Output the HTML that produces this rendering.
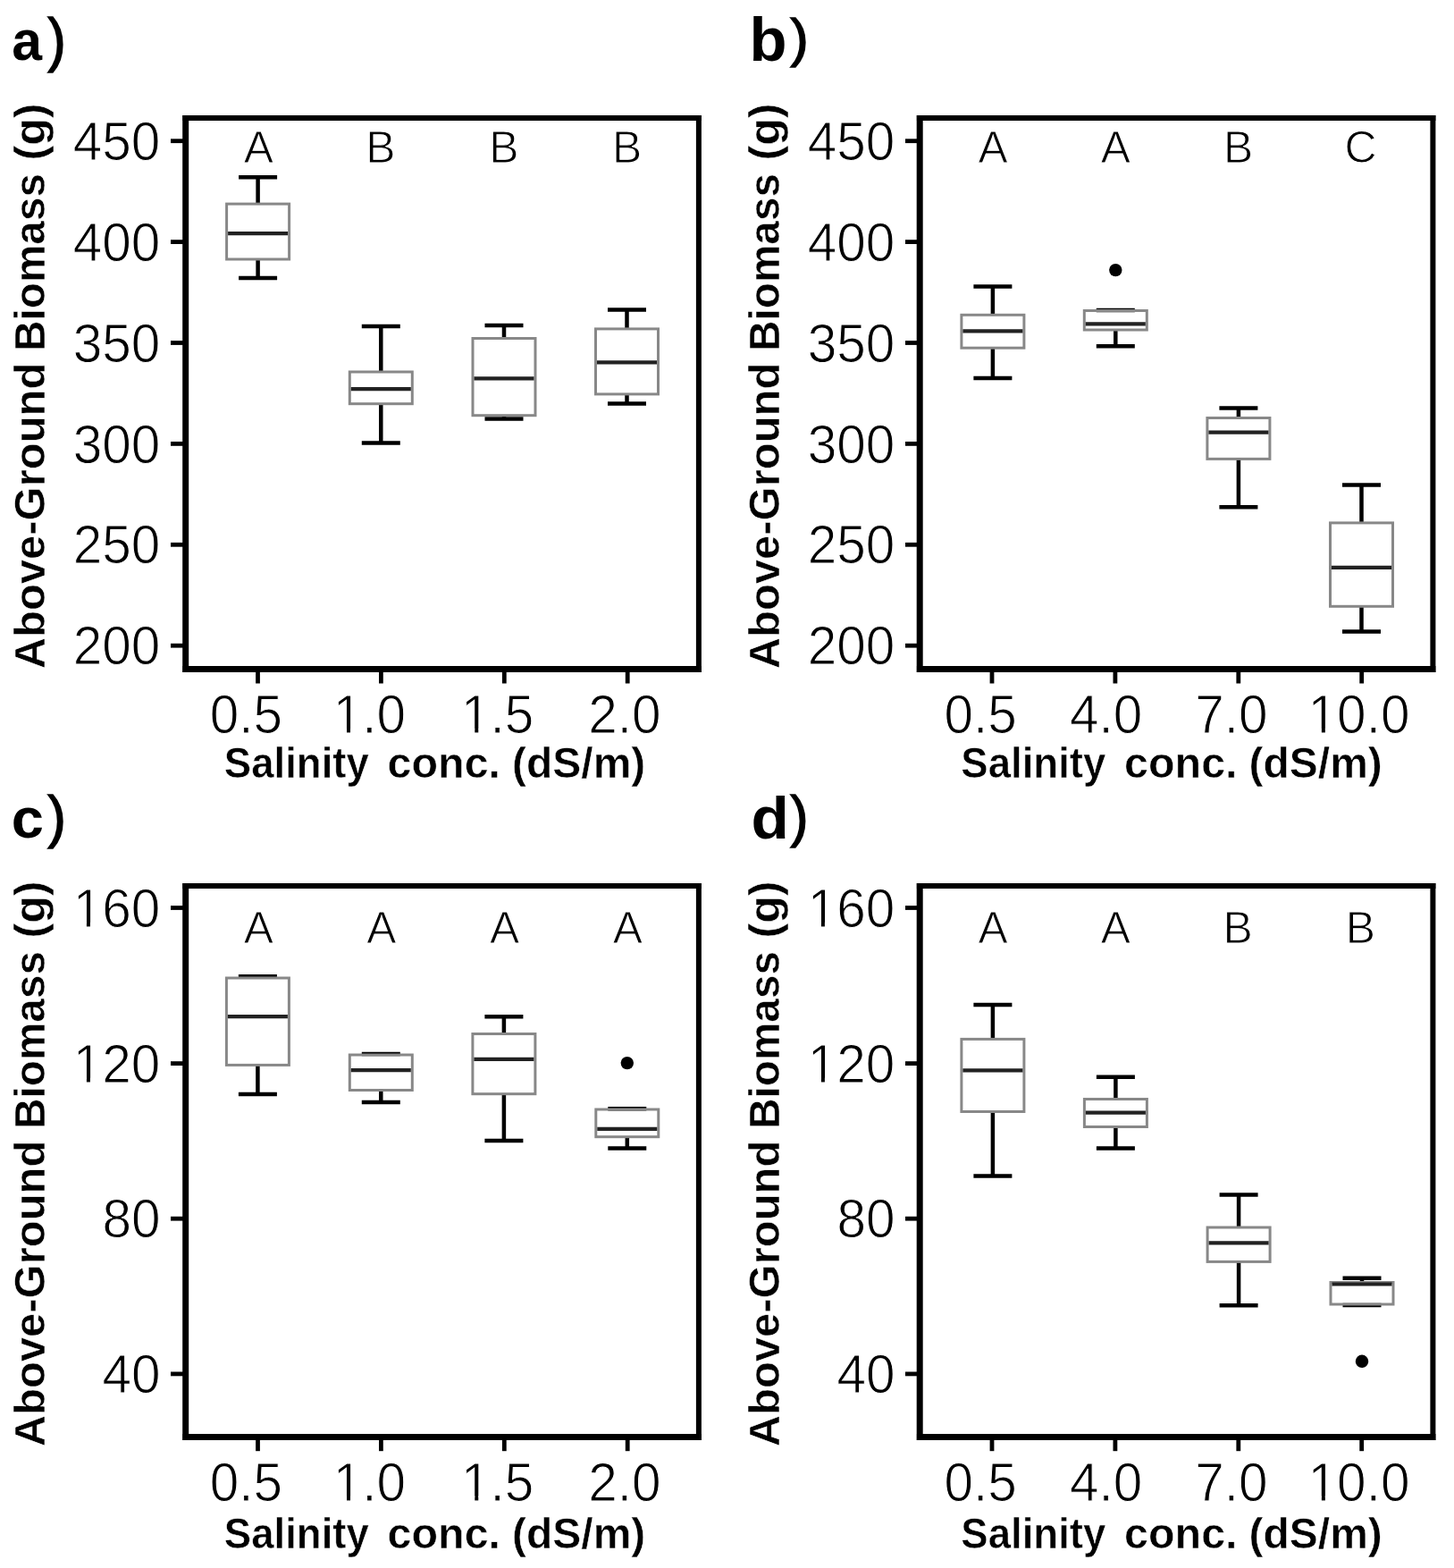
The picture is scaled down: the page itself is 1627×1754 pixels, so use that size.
<!DOCTYPE html>
<html lang="en"><head><meta charset="utf-8"><title>Above-ground biomass vs salinity</title>
<style>html,body{margin:0;padding:0;background:#fff;overflow:hidden;}svg{display:block;}text{font-family:'Liberation Sans', Arial, Helvetica, sans-serif;fill:#000;white-space:pre;}.b{font-weight:bold;}</style></head><body>
<svg width="1627" height="1754" viewBox="0 0 1627 1754">
<rect x="0" y="0" width="1627" height="1754" fill="#fff"/>
<g id="panel-a">
<text class="b" font-size="100" transform="matrix(0.6075 0 0 0.6327 13.2774 67.1673)">a</text><text font-size="100" transform="matrix(0.6038 0 0 0.6628 53.4962 67.3819)" stroke="#000" stroke-width="2.5264">)</text>
<text class="b" font-size="100" transform="translate(50.2 748.3691) rotate(-90) scale(0.4897 0.475)" stroke="#fff" stroke-width="1.0366">Above-Ground</text>
<text class="b" font-size="100" transform="translate(50.2 392.9414) rotate(-90) scale(0.4773 0.475)" stroke="#fff" stroke-width="1.05">Biomass</text>
<text class="b" font-size="100" transform="translate(50.2 179.5085) rotate(-90) scale(0.5017 0.475)" stroke="#fff" stroke-width="1.0239">(g)</text>
<text class="b" font-size="100" transform="matrix(0.4557 0 0 0.478 250.8329 870.4)" stroke="#fff" stroke-width="1.071">Salinity</text>
<text class="b" font-size="100" transform="matrix(0.4844 0 0 0.478 433.5624 870.4)" stroke="#fff" stroke-width="1.0391">conc.</text>
<text class="b" font-size="100" transform="matrix(0.4797 0 0 0.478 573.1015 870.4)" stroke="#fff" stroke-width="1.0442">(dS/m)</text>
<path d="M204.4 132H784.9" stroke="#000" stroke-width="5.8" fill="none"/>
<path d="M204.4 748.4H784.9" stroke="#000" stroke-width="7" fill="none"/>
<path d="M207.7 129.1V751.9" stroke="#000" stroke-width="7" fill="none"/>
<path d="M781.9 129.1V751.9" stroke="#000" stroke-width="6" fill="none"/>
<line x1="191" y1="157.7" x2="207.9" y2="157.7" stroke="#000" stroke-width="4.8"/>
<text font-size="100" transform="matrix(0.585 0 0 0.615 81.645 178.8)" stroke="#fff" stroke-width="1.6667">450</text>
<line x1="191" y1="270.6" x2="207.9" y2="270.6" stroke="#000" stroke-width="4.8"/>
<text font-size="100" transform="matrix(0.585 0 0 0.615 81.645 291.7)" stroke="#fff" stroke-width="1.6667">400</text>
<line x1="191" y1="383.5" x2="207.9" y2="383.5" stroke="#000" stroke-width="4.8"/>
<text font-size="100" transform="matrix(0.585 0 0 0.615 81.645 404.6)" stroke="#fff" stroke-width="1.6667">350</text>
<line x1="191" y1="496.4" x2="207.9" y2="496.4" stroke="#000" stroke-width="4.8"/>
<text font-size="100" transform="matrix(0.585 0 0 0.615 81.645 517.5)" stroke="#fff" stroke-width="1.6667">300</text>
<line x1="191" y1="609.3" x2="207.9" y2="609.3" stroke="#000" stroke-width="4.8"/>
<text font-size="100" transform="matrix(0.585 0 0 0.615 81.645 630.4)" stroke="#fff" stroke-width="1.6667">250</text>
<line x1="191" y1="722.2" x2="207.9" y2="722.2" stroke="#000" stroke-width="4.8"/>
<text font-size="100" transform="matrix(0.585 0 0 0.615 81.645 743.3)" stroke="#fff" stroke-width="1.6667">200</text>
<line x1="288.5" y1="748" x2="288.5" y2="764.5" stroke="#000" stroke-width="4.8"/>
<line x1="426.4" y1="748" x2="426.4" y2="764.5" stroke="#000" stroke-width="4.8"/>
<line x1="564.3" y1="748" x2="564.3" y2="764.5" stroke="#000" stroke-width="4.8"/>
<line x1="702.2" y1="748" x2="702.2" y2="764.5" stroke="#000" stroke-width="4.8"/>
<text font-size="100" transform="matrix(0.585 0 0 0.615 234.8425 820.2)" stroke="#fff" stroke-width="1.6667">0.5</text>
<g transform="matrix(0.585 0 0 0.615 372.7725 820.2)"><text font-size="100" stroke="#fff" stroke-width="1.6667">1.0</text><path d="M5 -8H26.1V2H5ZM32.9 -8H52V2H32.9Z" fill="#fff"/></g>
<g transform="matrix(0.585 0 0 0.615 516.0225 820.2)"><text font-size="100" stroke="#fff" stroke-width="1.6667">1.5</text><path d="M5 -8H26.1V2H5ZM32.9 -8H52V2H32.9Z" fill="#fff"/></g>
<text font-size="100" transform="matrix(0.585 0 0 0.615 658.35 820.2)" stroke="#fff" stroke-width="1.6667">2.0</text>
<text font-size="100" transform="matrix(0.499 0 0 0.499 272.733 181.6)" stroke="#fff" stroke-width="2.004">A</text>
<text font-size="100" transform="matrix(0.499 0 0 0.499 409.2845 181.6)" stroke="#fff" stroke-width="2.004">B</text>
<text font-size="100" transform="matrix(0.499 0 0 0.499 547.1845 181.6)" stroke="#fff" stroke-width="2.004">B</text>
<text font-size="100" transform="matrix(0.499 0 0 0.499 685.0845 181.6)" stroke="#fff" stroke-width="2.004">B</text>
<path d="M288.6 198.2V228.1M288.6 290V310.9" stroke="#000" stroke-width="4.5" fill="none"/>
<path d="M267.1 198.2H310.1M267.1 310.9H310.1" stroke="#000" stroke-width="4.5" fill="none"/>
<rect x="253.6" y="228.1" width="70" height="61.9" fill="none" stroke="#888" stroke-width="3"/>
<line x1="255.1" y1="261.2" x2="322.1" y2="261.2" stroke="#222" stroke-width="4.2"/>
<path d="M426.3 365V416M426.3 451.7V495.5" stroke="#000" stroke-width="4.5" fill="none"/>
<path d="M404.8 365H447.8M404.8 495.5H447.8" stroke="#000" stroke-width="4.5" fill="none"/>
<rect x="391.3" y="416" width="70" height="35.7" fill="none" stroke="#888" stroke-width="3"/>
<line x1="392.8" y1="435.1" x2="459.8" y2="435.1" stroke="#222" stroke-width="4.2"/>
<path d="M564 364.1V378.5M564 464.7V468.5" stroke="#000" stroke-width="4.5" fill="none"/>
<path d="M542.5 364.1H585.5M542.5 468.5H585.5" stroke="#000" stroke-width="4.5" fill="none"/>
<rect x="529" y="378.5" width="70" height="86.2" fill="none" stroke="#888" stroke-width="3"/>
<line x1="530.5" y1="423.4" x2="597.5" y2="423.4" stroke="#222" stroke-width="4.2"/>
<path d="M701.5 346.4V367.9M701.5 440.9V451.5" stroke="#000" stroke-width="4.5" fill="none"/>
<path d="M680 346.4H723M680 451.5H723" stroke="#000" stroke-width="4.5" fill="none"/>
<rect x="666.5" y="367.9" width="70" height="73" fill="none" stroke="#888" stroke-width="3"/>
<line x1="668" y1="405.4" x2="735" y2="405.4" stroke="#222" stroke-width="4.2"/>
</g>
<g id="panel-b">
<text class="b" font-size="100" transform="matrix(0.688 0 0 0.6781 838.584 67.5)">b</text><text font-size="100" transform="matrix(0.6038 0 0 0.6 884.3962 62.8)" stroke="#000" stroke-width="2.6581">)</text>
<text class="b" font-size="100" transform="translate(872.2 748.3691) rotate(-90) scale(0.4897 0.475)" stroke="#fff" stroke-width="1.0366">Above-Ground</text>
<text class="b" font-size="100" transform="translate(872.2 392.9414) rotate(-90) scale(0.4773 0.475)" stroke="#fff" stroke-width="1.05">Biomass</text>
<text class="b" font-size="100" transform="translate(872.2 179.5085) rotate(-90) scale(0.5017 0.475)" stroke="#fff" stroke-width="1.0239">(g)</text>
<text class="b" font-size="100" transform="matrix(0.4557 0 0 0.478 1075.3329 870.4)" stroke="#fff" stroke-width="1.071">Salinity</text>
<text class="b" font-size="100" transform="matrix(0.4844 0 0 0.478 1258.0624 870.4)" stroke="#fff" stroke-width="1.0391">conc.</text>
<text class="b" font-size="100" transform="matrix(0.4797 0 0 0.478 1397.6015 870.4)" stroke="#fff" stroke-width="1.0442">(dS/m)</text>
<path d="M1025.9 132H1606.4" stroke="#000" stroke-width="5.8" fill="none"/>
<path d="M1025.9 748.4H1606.4" stroke="#000" stroke-width="7" fill="none"/>
<path d="M1029.2 129.1V751.9" stroke="#000" stroke-width="7" fill="none"/>
<path d="M1603.4 129.1V751.9" stroke="#000" stroke-width="6" fill="none"/>
<line x1="1013" y1="157.7" x2="1029.4" y2="157.7" stroke="#000" stroke-width="4.8"/>
<text font-size="100" transform="matrix(0.585 0 0 0.615 903.645 178.8)" stroke="#fff" stroke-width="1.6667">450</text>
<line x1="1013" y1="270.6" x2="1029.4" y2="270.6" stroke="#000" stroke-width="4.8"/>
<text font-size="100" transform="matrix(0.585 0 0 0.615 903.645 291.7)" stroke="#fff" stroke-width="1.6667">400</text>
<line x1="1013" y1="383.5" x2="1029.4" y2="383.5" stroke="#000" stroke-width="4.8"/>
<text font-size="100" transform="matrix(0.585 0 0 0.615 903.645 404.6)" stroke="#fff" stroke-width="1.6667">350</text>
<line x1="1013" y1="496.4" x2="1029.4" y2="496.4" stroke="#000" stroke-width="4.8"/>
<text font-size="100" transform="matrix(0.585 0 0 0.615 903.645 517.5)" stroke="#fff" stroke-width="1.6667">300</text>
<line x1="1013" y1="609.3" x2="1029.4" y2="609.3" stroke="#000" stroke-width="4.8"/>
<text font-size="100" transform="matrix(0.585 0 0 0.615 903.645 630.4)" stroke="#fff" stroke-width="1.6667">250</text>
<line x1="1013" y1="722.2" x2="1029.4" y2="722.2" stroke="#000" stroke-width="4.8"/>
<text font-size="100" transform="matrix(0.585 0 0 0.615 903.645 743.3)" stroke="#fff" stroke-width="1.6667">200</text>
<line x1="1110" y1="748" x2="1110" y2="764.5" stroke="#000" stroke-width="4.8"/>
<line x1="1247.9" y1="748" x2="1247.9" y2="764.5" stroke="#000" stroke-width="4.8"/>
<line x1="1385.8" y1="748" x2="1385.8" y2="764.5" stroke="#000" stroke-width="4.8"/>
<line x1="1523.7" y1="748" x2="1523.7" y2="764.5" stroke="#000" stroke-width="4.8"/>
<text font-size="100" transform="matrix(0.585 0 0 0.615 1056.5425 820.2)" stroke="#fff" stroke-width="1.6667">0.5</text>
<text font-size="100" transform="matrix(0.585 0 0 0.615 1196.9775 820.2)" stroke="#fff" stroke-width="1.6667">4.0</text>
<text font-size="100" transform="matrix(0.585 0 0 0.615 1337.15 820.2)" stroke="#fff" stroke-width="1.6667">7.0</text>
<g transform="matrix(0.585 0 0 0.615 1463.5925 820.2)"><text font-size="100" stroke="#fff" stroke-width="1.6667">10.0</text><path d="M5 -8H26.1V2H5ZM32.9 -8H52V2H32.9Z" fill="#fff"/></g>
<text font-size="100" transform="matrix(0.499 0 0 0.499 1094.533 181.6)" stroke="#fff" stroke-width="2.004">A</text>
<text font-size="100" transform="matrix(0.499 0 0 0.499 1231.733 181.6)" stroke="#fff" stroke-width="2.004">A</text>
<text font-size="100" transform="matrix(0.499 0 0 0.499 1368.8845 181.6)" stroke="#fff" stroke-width="2.004">B</text>
<text font-size="100" transform="matrix(0.499 0 0 0.499 1504.3865 181.6)" stroke="#fff" stroke-width="2.004">C</text>
<path d="M1110.9 320.4V352.3M1110.9 389.2V423.1" stroke="#000" stroke-width="4.5" fill="none"/>
<path d="M1089.4 320.4H1132.4M1089.4 423.1H1132.4" stroke="#000" stroke-width="4.5" fill="none"/>
<rect x="1075.9" y="352.3" width="70" height="36.9" fill="none" stroke="#888" stroke-width="3"/>
<line x1="1077.4" y1="370.3" x2="1144.4" y2="370.3" stroke="#222" stroke-width="4.2"/>
<path d="M1248.3 347V347.5M1248.3 369V387.2" stroke="#000" stroke-width="4.5" fill="none"/>
<path d="M1226.8 347H1269.8M1226.8 387.2H1269.8" stroke="#000" stroke-width="4.5" fill="none"/>
<rect x="1213.3" y="347.5" width="70" height="21.5" fill="none" stroke="#888" stroke-width="3"/>
<line x1="1214.8" y1="362.3" x2="1281.8" y2="362.3" stroke="#222" stroke-width="4.2"/>
<circle cx="1248.3" cy="302.1" r="7.2" fill="#000"/>
<path d="M1385.9 456.4V467.5M1385.9 513.4V567.3" stroke="#000" stroke-width="4.5" fill="none"/>
<path d="M1364.4 456.4H1407.4M1364.4 567.3H1407.4" stroke="#000" stroke-width="4.5" fill="none"/>
<rect x="1350.9" y="467.5" width="70" height="45.9" fill="none" stroke="#888" stroke-width="3"/>
<line x1="1352.4" y1="483.7" x2="1419.4" y2="483.7" stroke="#222" stroke-width="4.2"/>
<path d="M1523.5 542.6V584.9M1523.5 678.3V706.6" stroke="#000" stroke-width="4.5" fill="none"/>
<path d="M1502 542.6H1545M1502 706.6H1545" stroke="#000" stroke-width="4.5" fill="none"/>
<rect x="1488.5" y="584.9" width="70" height="93.4" fill="none" stroke="#888" stroke-width="3"/>
<line x1="1490" y1="634.8" x2="1557" y2="634.8" stroke="#222" stroke-width="4.2"/>
</g>
<g id="panel-c">
<text class="b" font-size="100" transform="matrix(0.651 0 0 0.6255 12.7959 937.1745)">c</text><text font-size="100" transform="matrix(0.6077 0 0 0.6394 53.3923 935.6734)" stroke="#000" stroke-width="2.566">)</text>
<text class="b" font-size="100" transform="translate(50.2 1618.3691) rotate(-90) scale(0.4897 0.475)" stroke="#fff" stroke-width="1.0366">Above-Ground</text>
<text class="b" font-size="100" transform="translate(50.2 1262.9414) rotate(-90) scale(0.4773 0.475)" stroke="#fff" stroke-width="1.05">Biomass</text>
<text class="b" font-size="100" transform="translate(50.2 1049.5085) rotate(-90) scale(0.5017 0.475)" stroke="#fff" stroke-width="1.0239">(g)</text>
<text class="b" font-size="100" transform="matrix(0.4557 0 0 0.478 250.8329 1731.9)" stroke="#fff" stroke-width="1.071">Salinity</text>
<text class="b" font-size="100" transform="matrix(0.4844 0 0 0.478 433.5624 1731.9)" stroke="#fff" stroke-width="1.0391">conc.</text>
<text class="b" font-size="100" transform="matrix(0.4797 0 0 0.478 573.1015 1731.9)" stroke="#fff" stroke-width="1.0442">(dS/m)</text>
<path d="M204.4 991H784.9" stroke="#000" stroke-width="5.8" fill="none"/>
<path d="M204.4 1607.4H784.9" stroke="#000" stroke-width="7" fill="none"/>
<path d="M207.7 988.1V1610.9" stroke="#000" stroke-width="7" fill="none"/>
<path d="M781.9 988.1V1610.9" stroke="#000" stroke-width="6" fill="none"/>
<line x1="191" y1="1015.5" x2="207.9" y2="1015.5" stroke="#000" stroke-width="4.8"/>
<g transform="matrix(0.585 0 0 0.615 81.645 1036.6)"><text font-size="100" stroke="#fff" stroke-width="1.6667">160</text><path d="M5 -8H26.1V2H5ZM32.9 -8H52V2H32.9Z" fill="#fff"/></g>
<line x1="191" y1="1189.6" x2="207.9" y2="1189.6" stroke="#000" stroke-width="4.8"/>
<g transform="matrix(0.585 0 0 0.615 81.645 1210.7)"><text font-size="100" stroke="#fff" stroke-width="1.6667">120</text><path d="M5 -8H26.1V2H5ZM32.9 -8H52V2H32.9Z" fill="#fff"/></g>
<line x1="191" y1="1363.2" x2="207.9" y2="1363.2" stroke="#000" stroke-width="4.8"/>
<text font-size="100" transform="matrix(0.585 0 0 0.615 114.405 1384.3)" stroke="#fff" stroke-width="1.6667">80</text>
<line x1="191" y1="1536.9" x2="207.9" y2="1536.9" stroke="#000" stroke-width="4.8"/>
<text font-size="100" transform="matrix(0.585 0 0 0.615 114.405 1558)" stroke="#fff" stroke-width="1.6667">40</text>
<line x1="288.5" y1="1607" x2="288.5" y2="1623.2" stroke="#000" stroke-width="4.8"/>
<line x1="426.4" y1="1607" x2="426.4" y2="1623.2" stroke="#000" stroke-width="4.8"/>
<line x1="564.3" y1="1607" x2="564.3" y2="1623.2" stroke="#000" stroke-width="4.8"/>
<line x1="702.2" y1="1607" x2="702.2" y2="1623.2" stroke="#000" stroke-width="4.8"/>
<text font-size="100" transform="matrix(0.585 0 0 0.615 234.8425 1678.5)" stroke="#fff" stroke-width="1.6667">0.5</text>
<g transform="matrix(0.585 0 0 0.615 372.7725 1678.5)"><text font-size="100" stroke="#fff" stroke-width="1.6667">1.0</text><path d="M5 -8H26.1V2H5ZM32.9 -8H52V2H32.9Z" fill="#fff"/></g>
<g transform="matrix(0.585 0 0 0.615 516.0225 1678.5)"><text font-size="100" stroke="#fff" stroke-width="1.6667">1.5</text><path d="M5 -8H26.1V2H5ZM32.9 -8H52V2H32.9Z" fill="#fff"/></g>
<text font-size="100" transform="matrix(0.585 0 0 0.615 658.35 1678.5)" stroke="#fff" stroke-width="1.6667">2.0</text>
<text font-size="100" transform="matrix(0.499 0 0 0.499 272.733 1054.5)" stroke="#fff" stroke-width="2.004">A</text>
<text font-size="100" transform="matrix(0.499 0 0 0.499 410.133 1054.5)" stroke="#fff" stroke-width="2.004">A</text>
<text font-size="100" transform="matrix(0.499 0 0 0.499 547.933 1054.5)" stroke="#fff" stroke-width="2.004">A</text>
<text font-size="100" transform="matrix(0.499 0 0 0.499 685.833 1054.5)" stroke="#fff" stroke-width="2.004">A</text>
<path d="M288.4 1092.3V1094M288.4 1191.4V1224" stroke="#000" stroke-width="4.5" fill="none"/>
<path d="M266.9 1092.3H309.9M266.9 1224H309.9" stroke="#000" stroke-width="4.5" fill="none"/>
<rect x="253.4" y="1094" width="70" height="97.4" fill="none" stroke="#888" stroke-width="3"/>
<line x1="254.9" y1="1137.2" x2="321.9" y2="1137.2" stroke="#222" stroke-width="4.2"/>
<path d="M426.3 1179V1180M426.3 1219.5V1232.9" stroke="#000" stroke-width="4.5" fill="none"/>
<path d="M404.8 1179H447.8M404.8 1232.9H447.8" stroke="#000" stroke-width="4.5" fill="none"/>
<rect x="391.3" y="1180" width="70" height="39.5" fill="none" stroke="#888" stroke-width="3"/>
<line x1="392.8" y1="1197.2" x2="459.8" y2="1197.2" stroke="#222" stroke-width="4.2"/>
<path d="M563.9 1137.3V1156.5M563.9 1223.7V1276" stroke="#000" stroke-width="4.5" fill="none"/>
<path d="M542.4 1137.3H585.4M542.4 1276H585.4" stroke="#000" stroke-width="4.5" fill="none"/>
<rect x="528.9" y="1156.5" width="70" height="67.2" fill="none" stroke="#888" stroke-width="3"/>
<line x1="530.4" y1="1184.9" x2="597.4" y2="1184.9" stroke="#222" stroke-width="4.2"/>
<path d="M701.8 1240.2V1241M701.8 1271.7V1284.4" stroke="#000" stroke-width="4.5" fill="none"/>
<path d="M680.3 1240.2H723.3M680.3 1284.4H723.3" stroke="#000" stroke-width="4.5" fill="none"/>
<rect x="666.8" y="1241" width="70" height="30.7" fill="none" stroke="#888" stroke-width="3"/>
<line x1="668.3" y1="1262.9" x2="735.3" y2="1262.9" stroke="#222" stroke-width="4.2"/>
<circle cx="701.8" cy="1189.1" r="7.2" fill="#000"/>
</g>
<g id="panel-d">
<text class="b" font-size="100" transform="matrix(0.694 0 0 0.674 840.624 937.5)">d</text><text font-size="100" transform="matrix(0.5962 0 0 0.634 884.4038 935.3851)" stroke="#000" stroke-width="2.6012">)</text>
<text class="b" font-size="100" transform="translate(872.2 1618.3691) rotate(-90) scale(0.4897 0.475)" stroke="#fff" stroke-width="1.0366">Above-Ground</text>
<text class="b" font-size="100" transform="translate(872.2 1262.9414) rotate(-90) scale(0.4773 0.475)" stroke="#fff" stroke-width="1.05">Biomass</text>
<text class="b" font-size="100" transform="translate(872.2 1049.5085) rotate(-90) scale(0.5017 0.475)" stroke="#fff" stroke-width="1.0239">(g)</text>
<text class="b" font-size="100" transform="matrix(0.4557 0 0 0.478 1075.3329 1731.9)" stroke="#fff" stroke-width="1.071">Salinity</text>
<text class="b" font-size="100" transform="matrix(0.4844 0 0 0.478 1258.0624 1731.9)" stroke="#fff" stroke-width="1.0391">conc.</text>
<text class="b" font-size="100" transform="matrix(0.4797 0 0 0.478 1397.6015 1731.9)" stroke="#fff" stroke-width="1.0442">(dS/m)</text>
<path d="M1025.9 991H1606.4" stroke="#000" stroke-width="5.8" fill="none"/>
<path d="M1025.9 1607.4H1606.4" stroke="#000" stroke-width="7" fill="none"/>
<path d="M1029.2 988.1V1610.9" stroke="#000" stroke-width="7" fill="none"/>
<path d="M1603.4 988.1V1610.9" stroke="#000" stroke-width="6" fill="none"/>
<line x1="1013" y1="1015.5" x2="1029.4" y2="1015.5" stroke="#000" stroke-width="4.8"/>
<g transform="matrix(0.585 0 0 0.615 903.645 1036.6)"><text font-size="100" stroke="#fff" stroke-width="1.6667">160</text><path d="M5 -8H26.1V2H5ZM32.9 -8H52V2H32.9Z" fill="#fff"/></g>
<line x1="1013" y1="1189.6" x2="1029.4" y2="1189.6" stroke="#000" stroke-width="4.8"/>
<g transform="matrix(0.585 0 0 0.615 903.645 1210.7)"><text font-size="100" stroke="#fff" stroke-width="1.6667">120</text><path d="M5 -8H26.1V2H5ZM32.9 -8H52V2H32.9Z" fill="#fff"/></g>
<line x1="1013" y1="1363.2" x2="1029.4" y2="1363.2" stroke="#000" stroke-width="4.8"/>
<text font-size="100" transform="matrix(0.585 0 0 0.615 936.405 1384.3)" stroke="#fff" stroke-width="1.6667">80</text>
<line x1="1013" y1="1536.9" x2="1029.4" y2="1536.9" stroke="#000" stroke-width="4.8"/>
<text font-size="100" transform="matrix(0.585 0 0 0.615 936.405 1558)" stroke="#fff" stroke-width="1.6667">40</text>
<line x1="1110" y1="1607" x2="1110" y2="1623.2" stroke="#000" stroke-width="4.8"/>
<line x1="1247.9" y1="1607" x2="1247.9" y2="1623.2" stroke="#000" stroke-width="4.8"/>
<line x1="1385.8" y1="1607" x2="1385.8" y2="1623.2" stroke="#000" stroke-width="4.8"/>
<line x1="1523.7" y1="1607" x2="1523.7" y2="1623.2" stroke="#000" stroke-width="4.8"/>
<text font-size="100" transform="matrix(0.585 0 0 0.615 1056.5425 1678.5)" stroke="#fff" stroke-width="1.6667">0.5</text>
<text font-size="100" transform="matrix(0.585 0 0 0.615 1196.9775 1678.5)" stroke="#fff" stroke-width="1.6667">4.0</text>
<text font-size="100" transform="matrix(0.585 0 0 0.615 1337.15 1678.5)" stroke="#fff" stroke-width="1.6667">7.0</text>
<g transform="matrix(0.585 0 0 0.615 1463.5925 1678.5)"><text font-size="100" stroke="#fff" stroke-width="1.6667">10.0</text><path d="M5 -8H26.1V2H5ZM32.9 -8H52V2H32.9Z" fill="#fff"/></g>
<text font-size="100" transform="matrix(0.499 0 0 0.499 1094.533 1054.5)" stroke="#fff" stroke-width="2.004">A</text>
<text font-size="100" transform="matrix(0.499 0 0 0.499 1231.733 1054.5)" stroke="#fff" stroke-width="2.004">A</text>
<text font-size="100" transform="matrix(0.499 0 0 0.499 1368.3845 1054.5)" stroke="#fff" stroke-width="2.004">B</text>
<text font-size="100" transform="matrix(0.499 0 0 0.499 1505.6845 1054.5)" stroke="#fff" stroke-width="2.004">B</text>
<path d="M1110.9 1124V1162.4M1110.9 1243.5V1315.4" stroke="#000" stroke-width="4.5" fill="none"/>
<path d="M1089.4 1124H1132.4M1089.4 1315.4H1132.4" stroke="#000" stroke-width="4.5" fill="none"/>
<rect x="1075.9" y="1162.4" width="70" height="81.1" fill="none" stroke="#888" stroke-width="3"/>
<line x1="1077.4" y1="1197.4" x2="1144.4" y2="1197.4" stroke="#222" stroke-width="4.2"/>
<path d="M1248.4 1204.8V1229.5M1248.4 1260.5V1284.4" stroke="#000" stroke-width="4.5" fill="none"/>
<path d="M1226.9 1204.8H1269.9M1226.9 1284.4H1269.9" stroke="#000" stroke-width="4.5" fill="none"/>
<rect x="1213.4" y="1229.5" width="70" height="31" fill="none" stroke="#888" stroke-width="3"/>
<line x1="1214.9" y1="1244.6" x2="1281.9" y2="1244.6" stroke="#222" stroke-width="4.2"/>
<path d="M1386.1 1336.5V1373M1386.1 1411.4V1460.2" stroke="#000" stroke-width="4.5" fill="none"/>
<path d="M1364.6 1336.5H1407.6M1364.6 1460.2H1407.6" stroke="#000" stroke-width="4.5" fill="none"/>
<rect x="1351.1" y="1373" width="70" height="38.4" fill="none" stroke="#888" stroke-width="3"/>
<line x1="1352.6" y1="1390.3" x2="1419.6" y2="1390.3" stroke="#222" stroke-width="4.2"/>
<path d="M1524 1429.8V1434.5M1524 1459V1460" stroke="#000" stroke-width="4.5" fill="none"/>
<path d="M1502.5 1429.8H1545.5M1502.5 1460H1545.5" stroke="#000" stroke-width="4.5" fill="none"/>
<rect x="1489" y="1434.5" width="70" height="24.5" fill="none" stroke="#888" stroke-width="3"/>
<line x1="1490.5" y1="1436.5" x2="1557.5" y2="1436.5" stroke="#222" stroke-width="4.2"/>
<circle cx="1524" cy="1522.8" r="7.2" fill="#000"/>
</g>
</svg></body></html>
